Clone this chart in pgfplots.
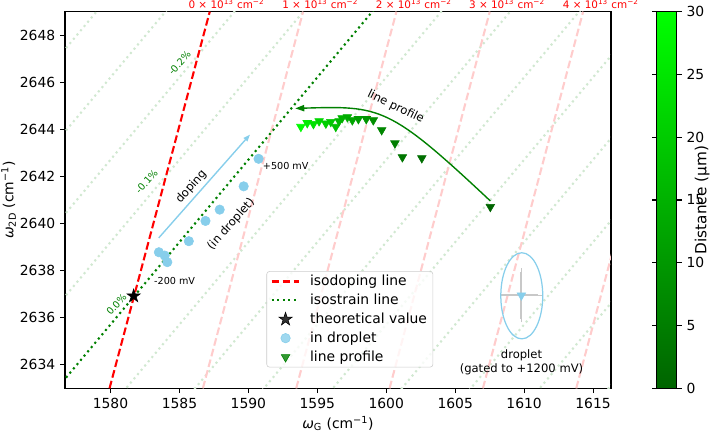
\documentclass[border=0pt]{standalone}
\usepackage{fontspec}
\setmainfont{DejaVu Sans}
\setsansfont{DejaVu Sans}
\usepackage{pgfplots}
\pgfplotsset{compat=1.18}
\usetikzlibrary{arrows.meta}
\definecolor{mplgreen}{RGB}{0,128,0}
\definecolor{skyblue}{RGB}{135,206,235}
\definecolor{ebgray}{RGB}{200,200,200}
\definecolor{legedge}{RGB}{204,204,204}
\pgfdeclareplotmark{fstar}{%
  \pgfpathmoveto{\pgfpointpolar{90}{\pgfplotmarksize}}%
  \pgfpathlineto{\pgfpointpolar{126}{0.382\pgfplotmarksize}}%
  \pgfpathlineto{\pgfpointpolar{162}{\pgfplotmarksize}}%
  \pgfpathlineto{\pgfpointpolar{198}{0.382\pgfplotmarksize}}%
  \pgfpathlineto{\pgfpointpolar{234}{\pgfplotmarksize}}%
  \pgfpathlineto{\pgfpointpolar{270}{0.382\pgfplotmarksize}}%
  \pgfpathlineto{\pgfpointpolar{306}{\pgfplotmarksize}}%
  \pgfpathlineto{\pgfpointpolar{342}{0.382\pgfplotmarksize}}%
  \pgfpathlineto{\pgfpointpolar{18}{\pgfplotmarksize}}%
  \pgfpathlineto{\pgfpointpolar{54}{0.382\pgfplotmarksize}}%
  \pgfpathclose
  \pgfusepathqfillstroke}
\pgfplotsset{/pgf/number format/assume math mode=true, /pgf/number format/1000 sep={}}
\newcommand\fsA{\fontsize{10}{12}\selectfont}
\newcommand\fsD{\fontsize{11}{13}\selectfont}
\newcommand\fsB{\fontsize{8.33}{10}\selectfont}
\newcommand\fsC{\fontsize{6.94}{8.3}\selectfont}
\newcommand\fsR{\fontsize{7.5}{9}\selectfont}
\pgfplotsset{
  faintstrain/.style={forget plot, color=mplgreen!18, line width=1.5pt, dash pattern=on 1.5pt off 2.5pt},
  faintdope/.style={forget plot, color=red!20, line width=1.5pt, dash pattern=on 5.55pt off 2.4pt},
  lineleg/.style={legend image code/.code={\draw[##1] (0pt,0pt) -- (20pt,0pt);}},
  markleg/.style={legend image code/.code={\draw[##1] plot coordinates {(10pt,0pt)};}},
}
\begin{document}
\begin{tikzpicture}
\begin{axis}[
  name=main,
  at={(0,0)}, anchor=south west,
  width=393.1pt, height=271.2pt, scale only axis,
  xmin=1576.7, xmax=1616.3, ymin=2633, ymax=2649,
  xtick={1580,1585,1590,1595,1600,1605,1610,1615},
  ytick={2634,2636,2638,2640,2642,2644,2646,2648},
  tick align=outside, xtick pos=left, ytick pos=left,
  major tick length=3.5pt,
  every tick/.style={black, line width=0.8pt},
  axis line style={line width=0.8pt},
  tick label style={font=\fsA},
  label style={font=\fsA},
  xlabel={{\itshape ω}\textsubscript{G} (cm\textsuperscript{−1})},
  ylabel={{\itshape ω}\textsubscript{2D} (cm\textsuperscript{−1})},
  xlabel shift=-1.5pt,
  ylabel shift=-4pt,
  clip mode=individual,
  colorbar,
  colormap={dg}{rgb255(0cm)=(0,100,0); rgb255(1cm)=(0,255,0)},
  point meta min=0, point meta max=30,
  colorbar style={
    at={(parent axis.north east)}, anchor=north west, xshift=24.5pt,
    width=14.4pt,
    ytick={0,5,10,15,20,25,30},
    tick align=outside, major tick length=3.5pt,
    every tick/.style={black, line width=0.8pt},
    axis line style={line width=0.8pt},
    tick label style={font=\fsA},
  },
  legend style={at={(0.369,0.311)}, anchor=north west, draw=legedge, rounded corners=2pt,
    fill=white, fill opacity=0.8, text opacity=1, font=\fsA,
    nodes={inner sep=1.5pt, text depth=0.15em},
    row sep=1.5pt, column sep=5.4pt, inner xsep=2.8pt, inner ysep=1.2pt},
  legend cell align=left,
]
% legend entries
\addlegendimage{red, line width=1.5pt, dash pattern=on 5.55pt off 2.4pt, lineleg}
\addlegendentry{\fsA isodoping line}
\addlegendimage{mplgreen, line width=1.5pt, dash pattern=on 1.5pt off 2.5pt, lineleg}
\addlegendentry{\fsA isostrain line}
\addlegendimage{black, mark=fstar, mark size=5pt, markleg}
\addlegendentry{\fsA theoretical value}
\addlegendimage{skyblue, mark=*, mark size=3.4pt, markleg}
\addlegendentry{\fsA in droplet}
\addlegendimage{mplgreen, mark=triangle*, mark size=3.6pt, mark options={rotate=180}, markleg}
\addlegendentry{\fsA line profile}

% faint isostrain lines (slope 0.7, spacing 3.5 in omega_2D)
\addplot[faintstrain] coordinates {(1576,2604.91) (1617,2633.61)};
\addplot[faintstrain] coordinates {(1576,2608.41) (1617,2637.11)};
\addplot[faintstrain] coordinates {(1576,2611.91) (1617,2640.61)};
\addplot[faintstrain] coordinates {(1576,2615.41) (1617,2644.11)};
\addplot[faintstrain] coordinates {(1576,2618.91) (1617,2647.61)};
\addplot[faintstrain] coordinates {(1576,2622.41) (1617,2651.11)};
\addplot[faintstrain] coordinates {(1576,2625.91) (1617,2654.61)};
\addplot[faintstrain] coordinates {(1576,2629.41) (1617,2658.11)};
\addplot[faintstrain] coordinates {(1576,2636.41) (1617,2665.11)};
\addplot[faintstrain] coordinates {(1576,2639.91) (1617,2668.61)};
\addplot[faintstrain] coordinates {(1576,2643.41) (1617,2672.11)};
\addplot[faintstrain] coordinates {(1576,2646.91) (1617,2675.61)};
% faint isodoping lines
\addplot[faintdope] coordinates {(1586.70,2633) (1593.97,2649)};
\addplot[faintdope] coordinates {(1593.47,2633) (1600.74,2649)};
\addplot[faintdope] coordinates {(1600.24,2633) (1607.51,2649)};
\addplot[faintdope] coordinates {(1607.01,2633) (1614.28,2649)};
\addplot[faintdope] coordinates {(1613.78,2633) (1621.05,2649)};
% bold lines
\addplot[forget plot, red, line width=1.5pt, dash pattern=on 5.55pt off 2.4pt]
  coordinates {(1579.93,2633) (1587.20,2649)};
\addplot[forget plot, mplgreen, line width=1.5pt, dash pattern=on 1.5pt off 2.5pt]
  coordinates {(1576,2632.91) (1617,2661.61)};

% in droplet
\addplot[forget plot, only marks, mark=*, mark size=3.4pt, color=skyblue,
  mark options={draw=skyblue, fill=skyblue}] coordinates {
  (1583.51,2638.78) (1583.93,2638.64) (1584.12,2638.36) (1585.68,2639.25)
  (1586.89,2640.11) (1587.92,2640.59) (1589.66,2641.58) (1590.74,2642.75)};

% line profile
\addplot[forget plot, scatter, only marks, mark=triangle*, mark size=3.6pt,
  mark options={rotate=180}, point meta=explicit,
  scatter/use mapped color={draw=mapped color, fill=mapped color}]
  table[meta=d] {
x y d
1593.81 2644.11 29
1594.27 2644.27 26
1594.72 2644.23 24
1595.13 2644.35 22
1595.62 2644.25 20.5
1595.98 2644.32 19
1596.34 2644.11 17.5
1596.58 2644.35 16
1596.80 2644.48 15
1597.18 2644.52 14
1597.54 2644.39 12.5
1597.98 2644.44 11
1598.55 2644.44 9.5
1599.06 2644.39 8
1599.67 2643.97 6.5
1600.63 2643.41 5
1601.17 2642.82 3.5
1602.58 2642.78 2
1607.55 2640.71 0
};

% theoretical value
\addplot[forget plot, only marks, mark=fstar, mark size=5pt, black] coordinates {(1581.68,2636.92)};

% droplet gated
\addplot[forget plot, only marks, mark=triangle*, mark size=3.6pt,
  mark options={rotate=180, draw=skyblue, fill=skyblue},
  error bars/.cd, x dir=both, x explicit, y dir=both, y explicit,
  error bar style={ebgray, line width=1.5pt},
  error mark options={ebgray, line width=1.2pt, mark size=2.6pt}]
  coordinates {(1609.80,2636.95) +- (1.2,1.0)};

\draw[skyblue, line width=0.9pt] (axis cs:1609.83,2636.93) ellipse [x radius=15.1pt, y radius=31pt];

% arrows
\draw[skyblue, line width=1pt, -{Triangle[length=5pt,width=3.5pt]}]
  (axis cs:1583.5,2639.39) -- (axis cs:1590.12,2643.78);
\draw[mplgreen, line width=1pt, -{Triangle[length=6.5pt,width=4.5pt]}]
  (axis cs:1607.55,2640.96) .. controls (axis cs:1600.2,2645.0) and (axis cs:1599.6,2645.0) .. (axis cs:1593.40,2644.89);

% texts
\node[font=\fsB, rotate=48.5] at (axis cs:1585.86,2641.56) {doping};
\node[font=\fsB, rotate=48.5] at (axis cs:1588.75,2639.96) {(in droplet)};
\node[font=\fsB, rotate=-26] at (axis cs:1600.68,2644.96) {line profile};
\node[font=\fsC] at (axis cs:1592.71,2642.45) {+500 mV};
\node[font=\fsC] at (axis cs:1584.65,2637.58) {-200 mV};
\node[font=\fsB, align=center] at (axis cs:1609.81,2634.09) {droplet\\(gated to +1200 mV)};
\node[font=\fsC, text=mplgreen, rotate=48] at (axis cs:1580.43,2636.56) {0.0\%};
\node[font=\fsC, text=mplgreen, rotate=48] at (axis cs:1582.62,2641.78) {-0.1\%};
\node[font=\fsC, text=mplgreen, rotate=48] at (axis cs:1585.01,2646.81) {-0.2\%};
\node[font=\fsR, text=red, anchor=base, yshift=2.2pt] at (axis cs:1588.41,2649) {0 × 10\textsuperscript{13} cm\textsuperscript{−2}};
\node[font=\fsR, text=red, anchor=base, yshift=2.2pt] at (axis cs:1595.21,2649) {1 × 10\textsuperscript{13} cm\textsuperscript{−2}};
\node[font=\fsR, text=red, anchor=base, yshift=2.2pt] at (axis cs:1602.00,2649) {2 × 10\textsuperscript{13} cm\textsuperscript{−2}};
\node[font=\fsR, text=red, anchor=base, yshift=2.2pt] at (axis cs:1608.76,2649) {3 × 10\textsuperscript{13} cm\textsuperscript{−2}};
\node[font=\fsR, text=red, anchor=base, yshift=2.2pt] at (axis cs:1615.56,2649) {4 × 10\textsuperscript{13} cm\textsuperscript{−2}};
\end{axis}
\node[font=\fsD, rotate=90, anchor=base] at (461.8pt,135.6pt) {Distance (μm)};
\pgfresetboundingbox
\path (-46.8pt,-30.7pt) rectangle (464.4pt,279.6pt);
\end{tikzpicture}
\end{document}
